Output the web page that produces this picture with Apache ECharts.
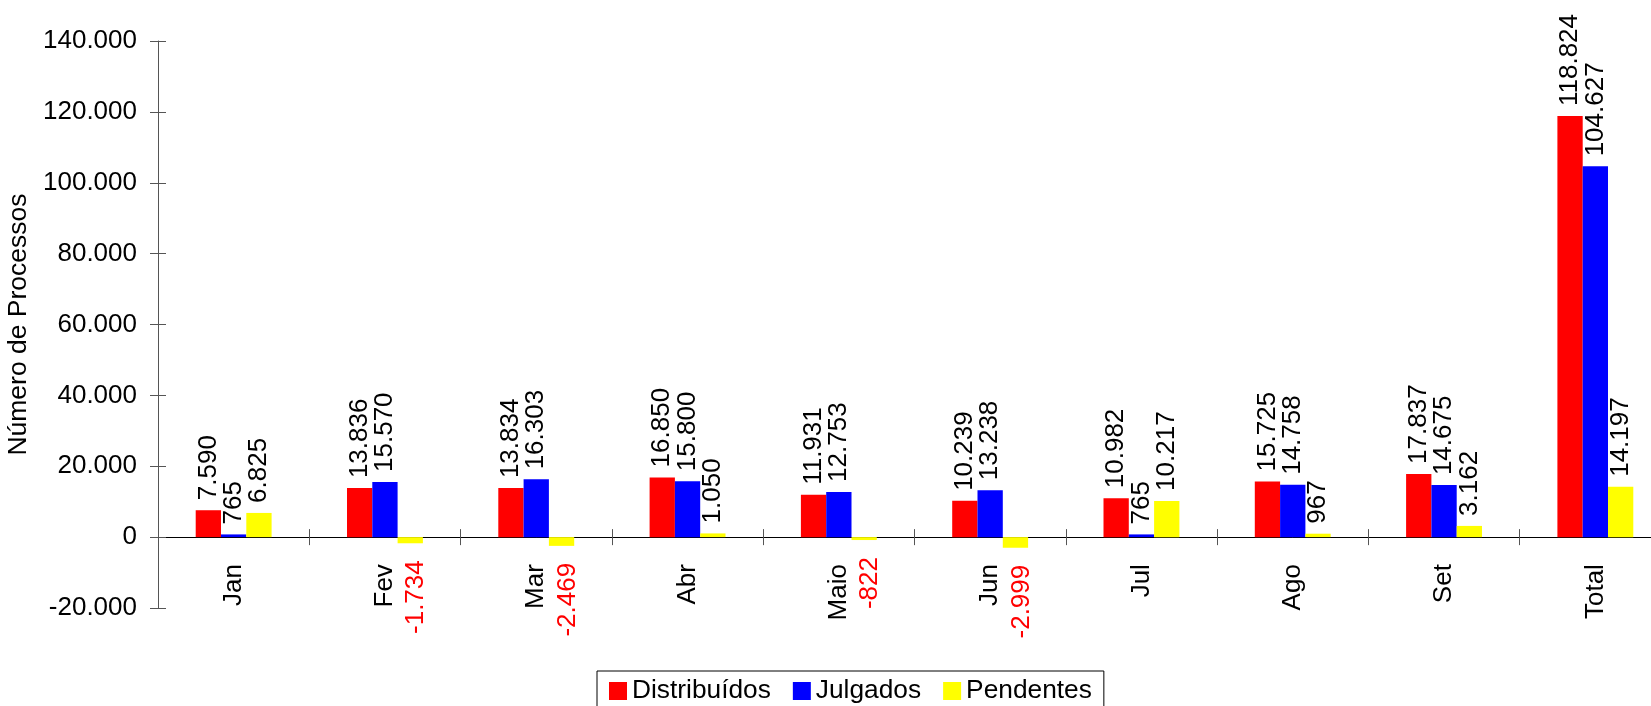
<!DOCTYPE html>
<html><head><meta charset="utf-8">
<script src="https://cdn.jsdelivr.net/npm/echarts@6/dist/echarts.min.js"></script>
<style>html,body{margin:0;padding:0;background:#fff;overflow:hidden;width:1651px;height:706px}#c{width:1671px;height:706px}</style>
</head><body><div id="c"></div>
<script>
const categories = ['Jan','Fev','Mar','Abr','Maio','Jun','Jul','Ago','Set','Total'];
const distribuidos = [7590, 13836, 13834, 16850, 11931, 10239, 10982, 15725, 17837, 118824];
const julgados = [765, 15570, 16303, 15800, 12753, 13238, 765, 14758, 14675, 104627];
const pendentes = [6825, -1734, -2469, 1050, -822, -2999, 10217, 967, 3162, 14197];
const seriesNames = ['Distribuídos','Julgados','Pendentes'];
const seriesColors = ['#ff0000','#0000ff','#ffff00'];
const yMin = -20000, yMax = 140000, yStep = 20000;

const FONT = '"Liberation Sans", Arial, sans-serif';
function fmt(v){
  const s = String(Math.abs(v)).replace(/\B(?=(\d{3})+(?!\d))/g,'.');
  return (v < 0 ? '-' : '') + s;
}
function mkData(arr){
  return arr.map(v => v < 0
    ? {value: v, label: {position: 'bottom', align: 'right', color: '#ff0000', distance: 17, offset: [0, 6]}}
    : v);
}
const seriesValues = [distribuidos, julgados, pendentes];

const H = 706;
const gridLeft = 158, gridTop = 41, gridBottom = 98;
// bottom of an overlay grid whose lower edge sits on the zero line of the value axis
const zeroBottom = H - (gridTop + (yMax / (yMax - yMin)) * (H - gridTop - gridBottom));

const chart = echarts.init(document.getElementById('c'), null, {renderer: 'canvas'});
chart.setOption({
  animation: false,
  textStyle: {fontFamily: FONT},
  grid: [
    {left: gridLeft, right: 0, top: gridTop, bottom: gridBottom, containLabel: false, outerBoundsMode: 'none'},
    {left: gridLeft, right: 0, top: gridTop, bottom: zeroBottom, containLabel: false, outerBoundsMode: 'none'}
  ],
  legend: {
    data: seriesNames,
    left: 597, top: 671,
    orient: 'horizontal',
    icon: 'rect',
    itemWidth: 18, itemHeight: 18, itemGap: 22,
    padding: [7, 12, 12, 12],
    borderColor: '#000', borderWidth: 1,
    textStyle: {fontSize: 26.3, color: '#000', fontFamily: FONT}
  },
  xAxis: [{
    gridIndex: 0, type: 'category', data: categories, show: false
  }, {
    gridIndex: 1, type: 'category', data: categories,
    axisLine: {onZero: false, lineStyle: {color: '#000', width: 1}},
    axisTick: {show: true, inside: false, length: 8, lineStyle: {color: '#555'}},
    axisLabel: {rotate: 90, fontSize: 26, color: '#000', margin: 27, fontFamily: FONT},
    splitLine: {show: false}
  }, {
    gridIndex: 1, type: 'category', data: categories, position: 'bottom',
    axisLine: {show: false, onZero: false},
    axisTick: {show: true, inside: true, length: 8, lineStyle: {color: '#555'}},
    axisLabel: {show: false},
    splitLine: {show: false}
  }],
  yAxis: [{
    gridIndex: 0, type: 'value', min: yMin, max: yMax, interval: yStep,
    name: 'Número de Processos', nameLocation: 'middle', nameGap: 105, nameRotate: 90,
    nameTextStyle: {fontSize: 26.5, color: '#000', fontFamily: FONT},
    axisLine: {show: true, lineStyle: {color: '#555'}},
    axisTick: {show: true, inside: false, length: 8, lineStyle: {color: '#555'}},
    axisLabel: {fontSize: 26, color: '#000', margin: 21, formatter: fmt, fontFamily: FONT},
    splitLine: {show: false}
  }, {
    gridIndex: 0, type: 'value', min: yMin, max: yMax, interval: yStep, position: 'left',
    axisLine: {show: false},
    axisTick: {show: true, inside: true, length: 8, lineStyle: {color: '#555'}},
    axisLabel: {show: false},
    splitLine: {show: false}
  }, {
    gridIndex: 1, type: 'value', min: 0, max: 1, show: false
  }],
  series: seriesNames.map((name, i) => ({
    name, type: 'bar', xAxisIndex: 0, yAxisIndex: 0,
    data: mkData(seriesValues[i]),
    barWidth: 25.3, barGap: '0%',
    itemStyle: {color: seriesColors[i]},
    label: {
      show: true, position: 'top', rotate: 90, align: 'left', verticalAlign: 'middle',
      distance: 10, fontSize: 26, color: '#000', fontFamily: FONT,
      formatter: p => fmt(p.value)
    }
  }))
});
</script></body></html>
